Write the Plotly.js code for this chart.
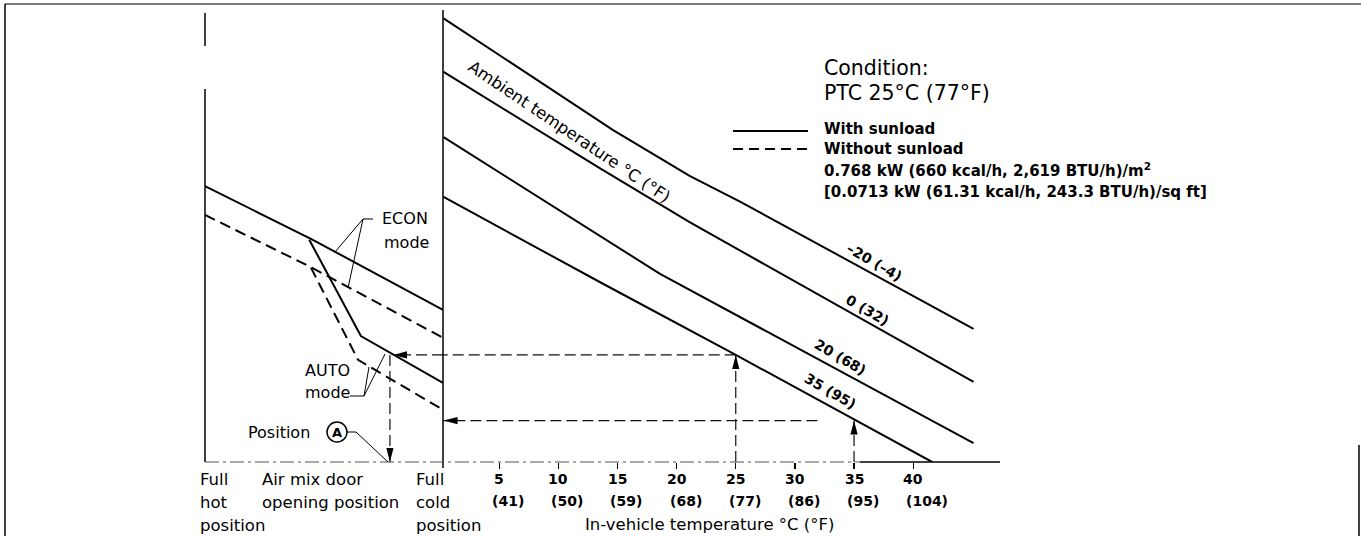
<!DOCTYPE html>
<html><head><meta charset="utf-8">
<script src="https://cdn.plot.ly/plotly-3.0.1.min.js"></script>
<style>html,body{margin:0;padding:0;background:#fff;}#chart{width:1361px;height:536px;}</style>
</head><body><div id="chart"></div>
<script>
// ---------------- DATA ----------------
// Right panel: in-vehicle temperature (°C) vs. relative control level (unlabelled, 0–100)
const tempTicks  = [5, 10, 15, 20, 25, 30, 35, 40];
const tempTicksF = ['(41)', '(50)', '(59)', '(68)', '(77)', '(86)', '(95)', '(104)'];
const ambientLabels = ['–20 (–4)', '0 (32)', '20 (68)', '35 (95)'];
const ambM20X = [0.3, 14.6, 21.1, 25.4, 45.1];
const ambM20Y = [98.6, 73.8, 63.6, 57.8, 29.6];
const amb0X   = [0.3, 13.5, 21.1, 45.1];
const amb0Y   = [86.7, 65.3, 53.3, 17.8];
const amb20X  = [0.3, 13.5, 18.6, 45.1];
const amb20Y  = [72.2, 50.2, 41.8, 4.2];
const amb35X  = [0.3, 13.5, 25.0, 37.2, 41.6];
const amb35Y  = [58.9, 40.0, 23.8, 6.4, 0.0];

// Left panel: air mix door opening position (0 = full hot, 100 = full cold)
const econSunX   = [0, 44.5, 100];
const econSunY   = [61.3, 49.6, 33.8];
const econNoSunX = [0, 44.5, 100];
const econNoSunY = [54.9, 43.3, 27.6];
const autoSunX   = [43.8, 65.5, 100];
const autoSunY   = [49.4, 28.0, 17.6];
const autoNoSunX = [44.5, 64.3, 100];
const autoNoSunY = [43.2, 22.7, 11.6];

// Example read-out: in-vehicle temps and resulting levels, door position A
const guideTemps  = [25, 35];
const guideLevels = [23.8, 9.2];
const guideStopTemp = 31.9;
const positionA   = 77.7;
const autoHitX    = 79.0;

// ---------------- LAYOUT GEOMETRY ----------------
const W = 1361, H = 536;
const PX = p => p / W, PY = p => 1 - p / H;
const LEFT0 = 205, MID = 443, RIGHT1 = 1000, TOP = 12, BOT = 462;
const xLRange = [0, 100];
const xRRange = [(MID - 440) / 11.83, (RIGHT1 - 440) / 11.83];
const yRange = [0, 100];
const kxL = (MID - LEFT0) / (xLRange[1] - xLRange[0]);
const kxR = (RIGHT1 - MID) / (xRRange[1] - xRRange[0]);
const ky  = (BOT - TOP) / (yRange[1] - yRange[0]);

const FONT = 'DejaVu Sans, Liberation Sans, Arial, sans-serif';
const solid = {color: '#000', width: 2};
const dashed = {color: '#000', width: 2, dash: '11px,6px'};
const guide = {color: '#111', width: 1.2, dash: '11px,5px'};

function tr(x, y, xa, line) {
  return {x, y, xaxis: xa, yaxis: 'y', type: 'scatter', mode: 'lines', line, hoverinfo: 'skip'};
}
const traces = [
  tr(ambM20X, ambM20Y, 'x2', solid),
  tr(amb0X, amb0Y, 'x2', solid),
  tr(amb20X, amb20Y, 'x2', solid),
  tr(amb35X, amb35Y, 'x2', solid),
  tr(econSunX, econSunY, 'x', solid),
  tr(econNoSunX, econNoSunY, 'x', dashed),
  tr(autoSunX, autoSunY, 'x', solid),
  tr(autoNoSunX, autoNoSunY, 'x', dashed),
  // guide 1 (25 °C)
  tr([guideTemps[0], guideTemps[0]], [0, guideLevels[0]], 'x2', guide),
  tr([guideTemps[0], xRRange[0]], [guideLevels[0], guideLevels[0]], 'x2', guide),
  tr([xLRange[1], autoHitX], [guideLevels[0], guideLevels[0]], 'x', guide),
  tr([positionA, positionA], [guideLevels[0], 0], 'x', guide),
  // guide 2 (35 °C)
  tr([guideTemps[1], guideTemps[1]], [0, guideLevels[1]], 'x2', guide),
  tr([guideStopTemp, xRRange[0] + 0.05], [guideLevels[1], guideLevels[1]], 'x2', guide)
];

function arrow(xa, x, y, dir) {
  const kx = xa === 'x' ? kxL : kxR, len = 14, hw = 3.6;
  let p;
  if (dir === 'up')   p = [[x, y], [x - hw / kx, y - len / ky], [x + hw / kx, y - len / ky]];
  if (dir === 'down') p = [[x, y], [x - hw / kx, y + len / ky], [x + hw / kx, y + len / ky]];
  if (dir === 'left') p = [[x, y], [x + len / kx, y + hw / ky], [x + len / kx, y - hw / ky]];
  return {type: 'path', xref: xa, yref: 'y', fillcolor: '#000', line: {width: 0},
    path: 'M' + p.map(q => q[0] + ',' + q[1]).join(' L') + ' Z'};
}
function pline(x0, y0, x1, y1, color, width, dash) {
  return {type: 'line', xref: 'paper', yref: 'paper', x0: PX(x0), y0: PY(y0), x1: PX(x1), y1: PY(y1),
    line: {color, width, dash: dash || 'solid'}};
}
const shapes = [
  // page frame
  pline(5, 4, 1361, 4, '#7a7a7a', 2),
  pline(5, 4, 5, 536, '#000', 1.5),
  pline(1359, 445, 1359, 536, '#000', 1.5),
  // panel borders
  pline(LEFT0, 13, LEFT0, 46, '#000', 1.5),
  pline(LEFT0, 89, LEFT0, BOT, '#000', 1.5),
  pline(MID, 10, MID, 468, '#000', 1.5),
  // bottom axis
  pline(LEFT0, BOT, 860, BOT, '#555', 1.2, '14px,4px,3px,4px'),
  pline(860, BOT, RIGHT1, BOT, '#000', 1.5),
  // legend samples
  pline(733, 131, 808, 131, '#000', 2),
  pline(733, 149, 808, 149, '#000', 2, '10px,6px'),
  // leaders
  pline(373, 219, 363, 219, '#000', 1),
  pline(363, 219, 335, 252, '#000', 1),
  pline(363, 219, 348, 288, '#000', 1),
  pline(350, 396, 364, 396, '#000', 1),
  pline(364, 396, 385, 354, '#000', 1),
  pline(364, 396, 369, 367, '#000', 1),
  pline(347, 432, 356, 432, '#000', 1),
  pline(356, 432, 388, 462, '#000', 1),
  // circled A
  {type: 'circle', xref: 'paper', yref: 'paper', x0: PX(327), x1: PX(347), y0: PY(442), y1: PY(422),
    line: {color: '#000', width: 1.5}},
  // arrowheads
  arrow('x2', guideTemps[0], guideLevels[0], 'up'),
  arrow('x', autoHitX, guideLevels[0], 'left'),
  arrow('x', positionA, 0, 'down'),
  arrow('x2', guideTemps[1], guideLevels[1], 'up'),
  arrow('x2', xRRange[0] + 0.05, guideLevels[1], 'left')
];

function txt(text, x, y, size, opts) {
  return Object.assign({text, x: PX(x), y: PY(y), xref: 'paper', yref: 'paper', showarrow: false,
    xanchor: 'left', yanchor: 'middle', font: {family: FONT, size, color: '#000'}}, opts || {});
}
const annotations = [
  txt('Condition:', 822, 68, 20.5),
  txt('PTC 25°C (77°F)', 822, 93, 20.5),
  txt('<b>With sunload</b>', 822, 129, 15),
  txt('<b>Without sunload</b>', 822, 149, 15),
  txt('<b>0.768 kW (660 kcal/h, 2,619 BTU/h)/m<sup>2</sup></b>', 822, 170, 15),
  txt('<b>[0.0713 kW (61.31 kcal/h, 243.3 BTU/h)/sq ft]</b>', 822, 192, 15),
  txt('Ambient temperature °C (°F)', 569, 131, 16.5, {xanchor: 'center', textangle: 34}),
  txt('<b>' + ambientLabels[0] + '</b>', 874, 262, 14, {xanchor: 'center', textangle: 30}),
  txt('<b>' + ambientLabels[1] + '</b>', 867, 310, 14, {xanchor: 'center', textangle: 30}),
  txt('<b>' + ambientLabels[2] + '</b>', 840, 357, 14, {xanchor: 'center', textangle: 30}),
  txt('<b>' + ambientLabels[3] + '</b>', 830, 391, 14, {xanchor: 'center', textangle: 30}),
  txt('ECON', 380, 219, 16),
  txt('mode', 382, 242, 16),
  txt('AUTO', 303, 370, 16),
  txt('mode', 303, 392, 16),
  txt('Position', 246, 432, 16),
  txt('<b>A</b>', 337, 432, 13, {xanchor: 'center'}),
  txt('Full', 198, 479, 16.5), txt('hot', 198, 502, 16.5), txt('position', 198, 525, 16.5),
  txt('Air mix door', 260, 479, 16.5), txt('opening position', 260, 502, 16.5),
  txt('Full', 414, 479, 16.5), txt('cold', 414, 502, 16.5), txt('position', 414, 525, 16.5),
  txt('In-vehicle temperature °C (°F)', 709, 524, 16.5, {xanchor: 'center'})
];
tempTicks.forEach((t, i) => {
  annotations.push({text: '<b>' + t + '</b>', x: t, y: 0, xref: 'x2', yref: 'y', showarrow: false,
    xanchor: 'center', yanchor: 'middle', yshift: -17, font: {family: FONT, size: 14, color: '#000'}});
  annotations.push({text: '<b>' + tempTicksF[i] + '</b>', x: t, y: 0, xref: 'x2', yref: 'y', showarrow: false,
    xanchor: 'left', yanchor: 'middle', yshift: -39, xshift: -9, font: {family: FONT, size: 14, color: '#000'}});
});

const noAxis = {showgrid: false, zeroline: false, showline: false, showticklabels: false, fixedrange: true};
const layout = {
  width: W, height: H, margin: {l: 0, r: 0, t: 0, b: 0, pad: 0},
  paper_bgcolor: '#fff', plot_bgcolor: 'rgba(0,0,0,0)', showlegend: false,
  font: {family: FONT, color: '#000'},
  xaxis: Object.assign({domain: [PX(LEFT0), PX(MID)], range: xLRange, ticks: '', anchor: 'y'}, noAxis),
  xaxis2: Object.assign({domain: [PX(MID), PX(RIGHT1)], range: xRRange, anchor: 'y',
    ticks: 'outside', tickvals: tempTicks, ticklen: 6, tickwidth: 1.2, tickcolor: '#000'}, noAxis),
  yaxis: Object.assign({domain: [PY(BOT), PY(TOP)], range: yRange, ticks: '', anchor: 'x'}, noAxis),
  shapes, annotations
};
Plotly.newPlot('chart', traces, layout, {staticPlot: true, displayModeBar: false});
</script></body></html>
